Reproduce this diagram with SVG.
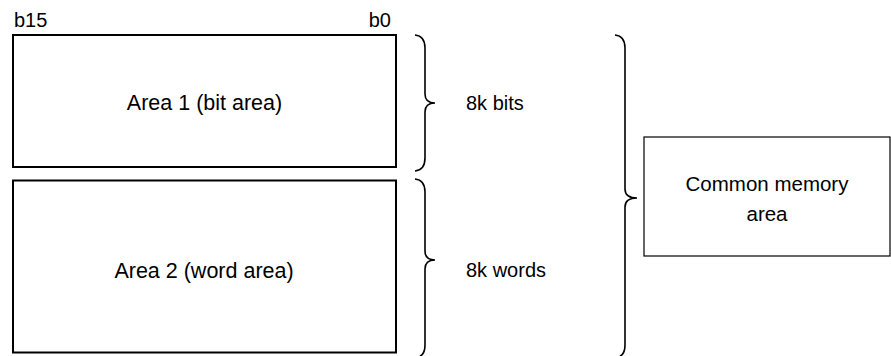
<svg xmlns="http://www.w3.org/2000/svg" width="891" height="356" viewBox="0 0 891 356">
<style>
text{font-family:"Liberation Sans",Arial,sans-serif;font-size:20px;fill:#000}
.big{font-size:21.5px}
.mid{font-size:20.5px}
.area{fill:#fff;stroke:#000;stroke-width:2}
.box{fill:#fff;stroke:#000;stroke-width:1.2}
.brace{fill:none;stroke:#000;stroke-width:1.6}
</style>
<rect width="891" height="356" fill="#fff"/>
<g id="bitlabels">
<text x="14" y="27">b15</text>
<text x="391" y="27" text-anchor="end">b0</text>
</g>
<g id="area1">
<rect class="area" x="13" y="35" width="383" height="132"/>
<text class="big" x="204.5" y="110" text-anchor="middle">Area 1 (bit area)</text>
</g>
<g id="area2">
<rect class="area" x="13" y="180.5" width="383" height="172"/>
<text class="big" x="204" y="278" text-anchor="middle">Area 2 (word area)</text>
</g>
<g id="common">
<rect class="box" x="644" y="137" width="246" height="119"/>
<text class="mid" x="767" y="191" text-anchor="middle">Common memory</text>
<text class="mid" x="767" y="221" text-anchor="middle">area</text>
</g>
<g id="connectors">
<path class="brace" d="M415,35 Q425,36 425,48 L425,94 Q425,103 435,103 Q425,103 425,112 L425,158 Q425,170 415,171"/>
<path class="brace" d="M415,179 Q425,180 425,192 L425,251 Q425,260 435,260 Q425,260 425,269 L425,345 Q425,357 415,358"/>
<path class="brace" d="M615,35 Q625,36 625,48 L625,189 Q625,198 637,198 Q625,198 625,207 L625,345 Q625,357 615,358"/>
</g>
<g id="sizes">
<text x="466" y="110">8k bits</text>
<text x="466" y="277">8k words</text>
</g>
</svg>
